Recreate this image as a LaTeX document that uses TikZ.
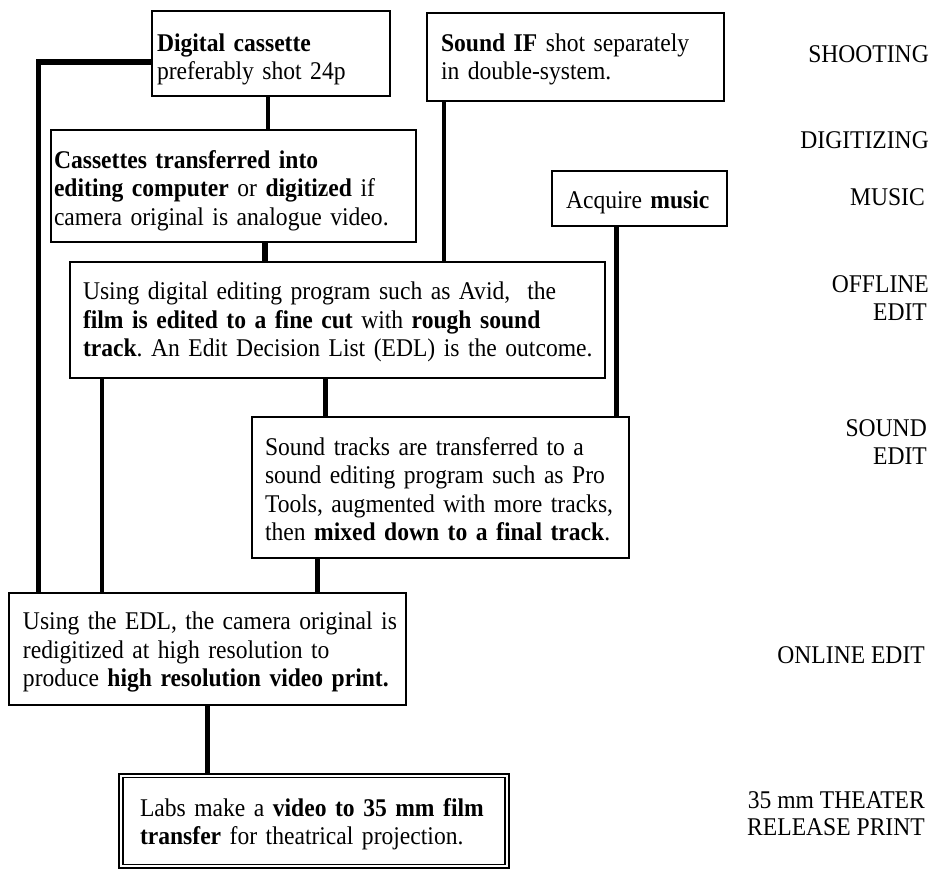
\documentclass[tikz,border=0pt]{standalone}
\usepackage{fontspec}
\setmainfont{Liberation Serif}[FakeStretch=0.925]
\frenchspacing
\newcommand{\lne}[1]{\mbox{#1}}
\newcommand{\dn}[1]{\rule{0pt}{#1pt}}
\begin{document}
\begin{tikzpicture}[x=1pt,y=-1pt,
  txt/.style={font=\fontsize{25.5}{28.5}\selectfont},
  box/.style={txt, draw, line width=1.8pt, inner ysep=0pt, align=left},
  dbox/.style={box, double, line width=1.8pt, double distance=1.6pt},
  lbl/.style={txt, anchor=base east, inner sep=0pt},
  conn/.style={line width=#1},
  conn/.default=5pt
]
\useasboundingbox (0,0) rectangle (934,871);

% boxes
\node[box, text width=228pt, inner xsep=5pt, minimum height=85pt] (A) at (271,53.5)
  {\lne{\dn{29}\textbf{Digital cassette}}\\\lne{preferably shot 24p}};
\node[box, text width=269pt, inner xsep=14pt, minimum height=88pt] (B) at (575.5,57)
  {\lne{\dn{22}\textbf{Sound IF} shot separately}\\\lne{in double-system.}};
\node[box, text width=359pt, inner xsep=3pt, minimum height=112pt] (C) at (233.5,186)
  {\lne{\dn{27}\textbf{Cassettes transferred into}}\\\lne{\textbf{editing computer} or \textbf{digitized} if}\\\lne{camera original is analogue video.}};
\node[box, text width=147pt, inner xsep=14pt, minimum height=55pt] (D) at (639.5,198.5)
  {\lne{\dn{25}Acquire \textbf{music}}};
\node[box, text width=509pt, inner xsep=13pt, minimum height=116pt] (E) at (337.5,320)
  {\lne{\dn{21.5}Using digital editing program such as Avid,~ the}\\\lne{\textbf{film is edited to a fine cut} with \textbf{rough sound}}\\\lne{\textbf{track}. An Edit Decision List (EDL) is the outcome.}};
\node[box, text width=351pt, inner xsep=13pt, minimum height=141pt] (F) at (440.5,487.5)
  {\lne{\dn{21.5}Sound tracks are transferred to a}\\\lne{sound editing program such as Pro}\\\lne{Tools, augmented with more tracks,}\\\lne{then \textbf{mixed down to a final track}.}};
\node[box, text width=369pt, inner xsep=14pt, minimum height=112pt] (G) at (207.5,649)
  {\lne{\dn{24}Using the EDL, the camera original is}\\\lne{redigitized at high resolution to}\\\lne{produce \textbf{high resolution video print.}}};
\node[dbox, text width=348pt, inner xsep=19pt, minimum height=90.4pt] (H) at (314,821)
  {\lne{\dn{24}Labs make a \textbf{video to 35 mm film}}\\\lne{\textbf{transfer} for theatrical projection.}};

% connector x positions
\coordinate (cL) at (38.5,62);
\coordinate (c1) at (268,0);
\coordinate (c2) at (264.5,0);
\coordinate (c3) at (444,0);
\coordinate (c4) at (616.7,0);
\coordinate (c5) at (102,0);
\coordinate (c6) at (325.5,0);
\coordinate (c7) at (317.5,0);
\coordinate (c8) at (207.5,0);

\draw[conn=5.5pt] (A.west |- cL) -| (cL |- G.north);
\draw[conn=4.5pt] (c1 |- A.south) -- (c1 |- C.north);
\draw[conn=6pt]   (c2 |- C.south) -- (c2 |- E.north);
\draw[conn=4.3pt] (c3 |- B.south) -- (c3 |- E.north);
\draw[conn=4.7pt] (c4 |- D.south) -- (c4 |- F.north);
\draw[conn=4pt]   (c5 |- E.south) -- (c5 |- G.north);
\draw[conn=4.3pt] (c6 |- E.south) -- (c6 |- F.north);
\draw[conn=5pt]   (c7 |- F.south) -- (c7 |- G.north);
\draw[conn=5pt]   (c8 |- G.south) -- (c8 |- H.north);

% stage labels
\node[lbl] (s1) at (929,62) {SHOOTING};
\node[lbl] (s2) at (929,148) {DIGITIZING};
\node[lbl] (s3) at (925,205) {MUSIC};
\node[lbl] (s4a) at (929,292) {OFFLINE};
\node[lbl] (s4b) at (927,320) {EDIT};
\node[lbl] (s5a) at (927,436) {SOUND};
\node[lbl] (s5b) at (927,464) {EDIT};
\node[lbl] (s6) at (925,663) {ONLINE EDIT};
\node[lbl] (s7a) at (925,808) {35 mm THEATER};
\node[lbl] (s7b) at (925,835) {RELEASE PRINT};
\end{tikzpicture}
\end{document}
